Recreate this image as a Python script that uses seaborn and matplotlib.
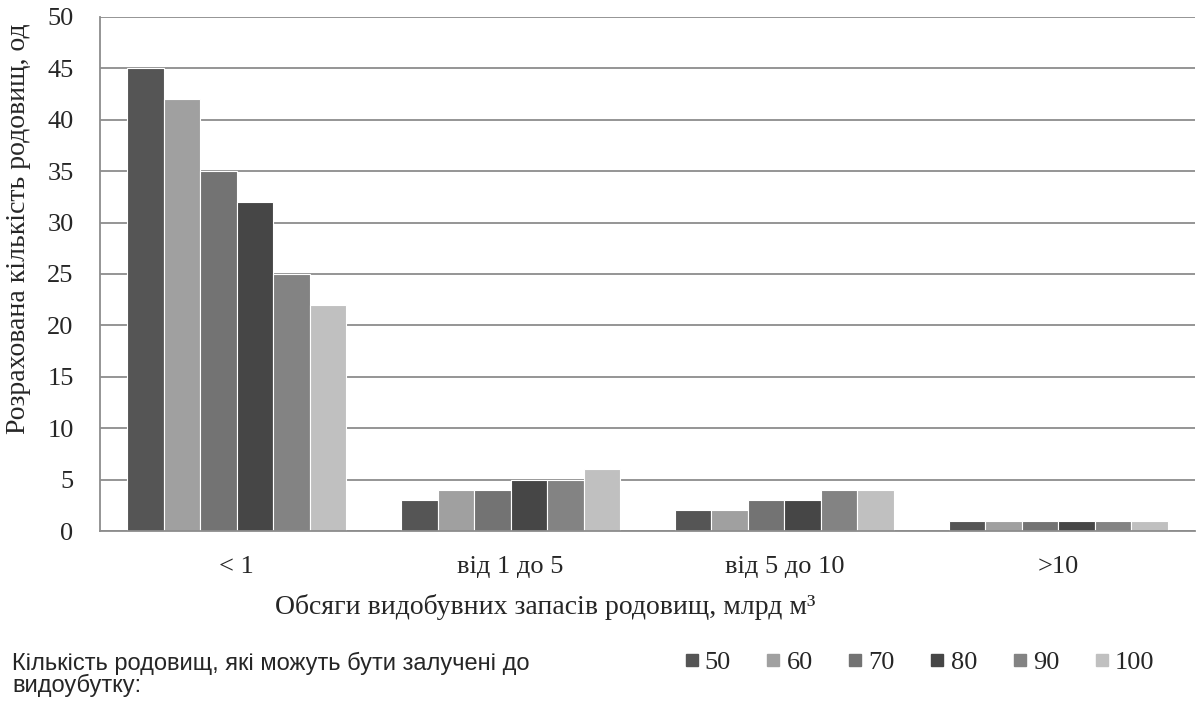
import matplotlib
matplotlib.use('Agg')
import matplotlib.pyplot as plt
import seaborn as sns
import pandas as pd
from matplotlib.lines import Line2D

categories = ['< 1', 'від 1 до 5', 'від 5 до 10', '>10']
series = ['50', '60', '70', '80', '90', '100']
values_50 = [45, 3, 2, 1]
values_60 = [42, 4, 2, 1]
values_70 = [35, 4, 3, 1]
values_80 = [32, 5, 3, 1]
values_90 = [25, 5, 4, 1]
values_100 = [22, 6, 4, 1]
colors = ['#555555', '#a0a0a0', '#737373', '#464646', '#838383', '#c0c0c0']

all_values = [values_50, values_60, values_70, values_80, values_90, values_100]
rows = []
for s, vals in zip(series, all_values):
    for c, v in zip(categories, vals):
        rows.append({'cat': c, 'series': s, 'val': v})
df = pd.DataFrame(rows)

sns.set_style('white')
plt.rcParams['font.family'] = ['Liberation Serif', 'DejaVu Serif']
fs = 19

fig = plt.figure(figsize=(12, 7.05), dpi=100)
ax = fig.add_axes([0.0833, 0.2468, 0.9125, 0.7292])

sns.barplot(data=df, x='cat', y='val', hue='series', order=categories,
            hue_order=series, palette=colors, width=0.8, edgecolor='white',
            linewidth=0.8, saturation=1, ax=ax, legend=False)

grid_col = '#8c8c8c'
ax.set_ylim(0, 50)
ax.set_xlim(-0.5, 3.5)
ax.set_yticks(range(0, 51, 5))
ax.yaxis.grid(True, color=grid_col, linewidth=1.3)
ax.set_axisbelow(True)
for side in ['top', 'right']:
    ax.spines[side].set_visible(False)
for side in ['left', 'bottom']:
    ax.spines[side].set_color(grid_col)
    ax.spines[side].set_linewidth(1.3)

ax.tick_params(axis='y', length=6, width=1.3, color=grid_col, labelsize=fs, pad=13)
ax.tick_params(axis='x', which='major', length=0, labelsize=fs, pad=18)
ax.set_xticks([-0.5, 0.5, 1.5, 2.5, 3.5], minor=True)
ax.tick_params(axis='x', which='minor', length=7, width=1.3, color=grid_col, direction='out')

ax.set_xlabel('Обсяги видобувних запасів родовищ, млрд м³', fontsize=20)
ax.set_ylabel('Розрахована кількість родовищ, од', fontsize=20)
ax.xaxis.set_label_coords(0.407, -0.123)
ax.yaxis.set_label_coords(-0.063, 0.588)

sans = ['Liberation Sans', 'DejaVu Sans']
fig.text(0.01, 1 - 652 / 705, 'Кількість родовищ, які можуть бути залучені до\nвидоубутку:',
         fontsize=17, va='top', ha='left', linespacing=0.93, family=sans)

handles = [Line2D([0], [0], marker='s', linestyle='', markersize=9,
                  markerfacecolor=c, markeredgecolor=c) for c in colors]
fig.legend(handles, series, loc='center left', bbox_to_anchor=(0.551, 1 - 662 / 705),
           ncol=6, frameon=False, fontsize=fs, handletextpad=0.25,
           columnspacing=1.36, handlelength=0.5)

fig.savefig('out.png', dpi=100)
